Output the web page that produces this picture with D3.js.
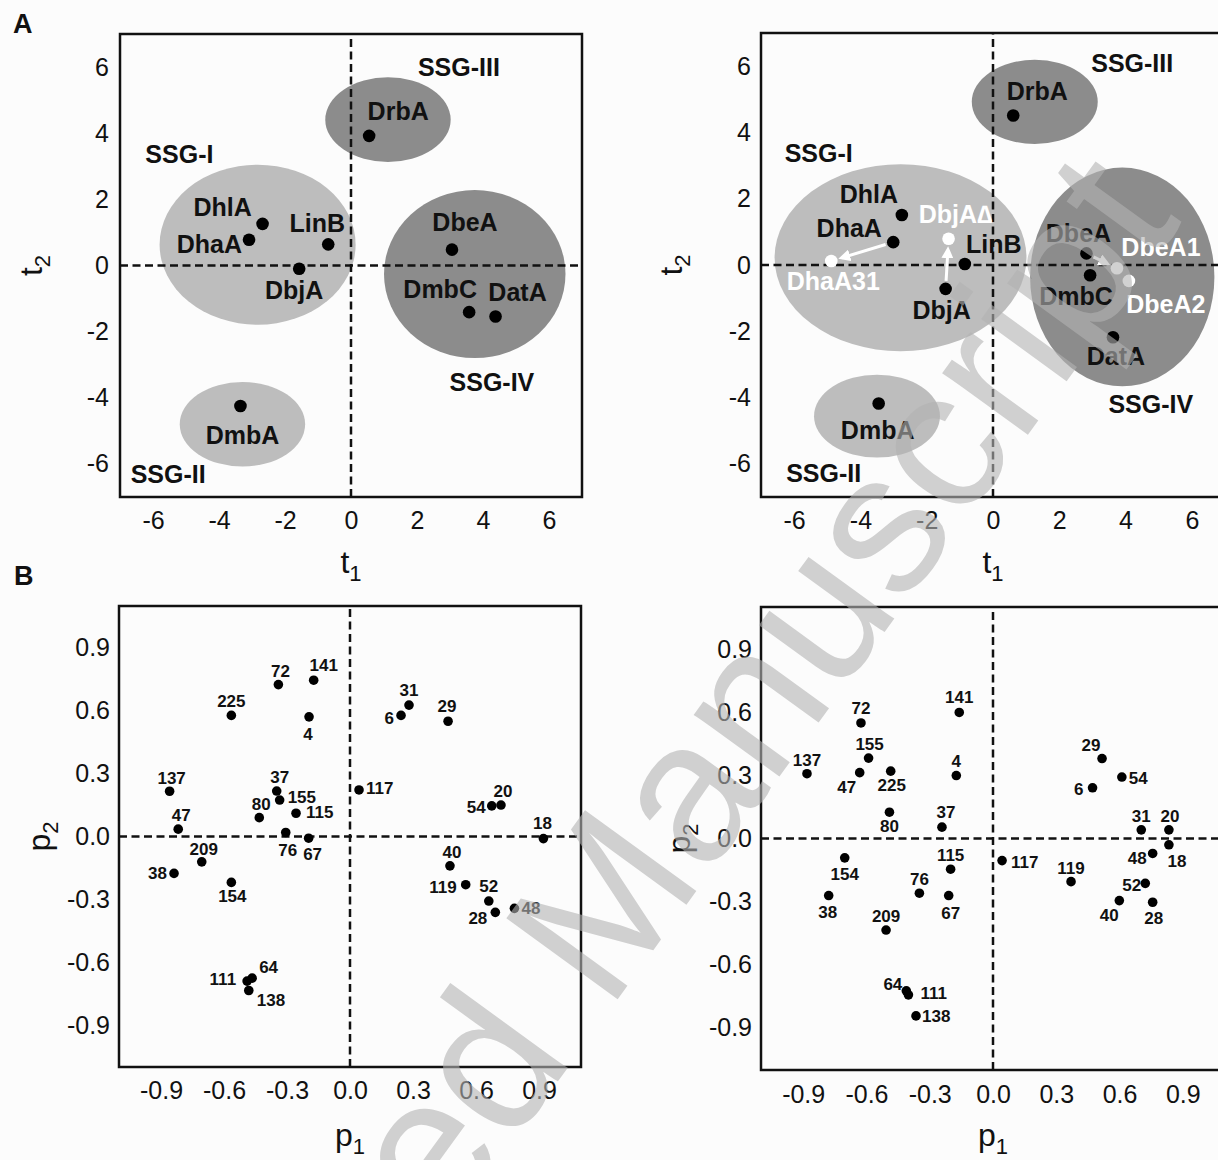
<!DOCTYPE html>
<html>
<head>
<meta charset="utf-8">
<script src="https://d3js.org/d3.v7.min.js"></script>
<style>
  body { margin: 0; background: #fcfcfc; }
  svg { display: block; font-family: Arial, "Liberation Sans", sans-serif; }
</style>
</head>
<body>
<svg id="chart" width="1218" height="1160"></svg>
<script>
// ---- Panel A (scores t1/t2) ----
const enzymesA1 = ["DrbA", "DhlA", "DhaA", "LinB", "DbjA", "DbeA", "DmbC", "DatA", "DmbA"];
const t1A1 = [0.55, -2.68, -3.09, -0.69, -1.57, 3.06, 3.58, 4.38, -3.35];
const t2A1 = [3.92, 1.26, 0.78, 0.64, -0.10, 0.48, -1.41, -1.54, -4.25];

const enzymesA2 = ["DrbA", "DhlA", "DhaA", "LinB", "DbjA", "DbeA", "DmbC", "DatA", "DmbA",
                   "DhaA31", "DbjA\u2206", "DbeA1", "DbeA2"];
const t1A2 = [0.61, -2.75, -3.01, -0.85, -1.43, 2.82, 2.93, 3.62, -3.45, -4.88, -1.34, 3.74, 4.10];
const t2A2 = [4.51, 1.51, 0.69, 0.03, -0.72, 0.35, -0.31, -2.18, -4.18, 0.12, 0.79, -0.10, -0.48];
const mutantA2 = [0, 0, 0, 0, 0, 0, 0, 0, 0, 1, 1, 1, 1];
// wild type -> mutant arrows
const arrowsA2 = [["DhaA", "DhaA31"], ["DbjA", "DbjA\u2206"], ["DbeA", "DbeA1"]];

// SSG groups: centre t1, centre t2, radius t1, radius t2, shade
const groupNames = ["SSG-I", "SSG-II", "SSG-III", "SSG-IV"];
const groupShade = ["light", "light", "dark", "dark"];
const groupCxA1 = [-2.83, -3.29, 1.12, 3.75];
const groupCyA1 = [0.63, -4.80, 4.41, -0.26];
const groupRxA1 = [2.97, 1.90, 1.90, 2.75];
const groupRyA1 = [2.42, 1.28, 1.28, 2.54];
const groupCxA2 = [-2.79, -3.50, 1.26, 3.90];
const groupCyA2 = [0.22, -4.56, 4.92, -0.36];
const groupRxA2 = [3.80, 1.90, 1.90, 2.78];
const groupRyA2 = [2.82, 1.25, 1.27, 3.30];

const ticksA = [-6, -4, -2, 0, 2, 4, 6];

// ---- Panel B (loadings p1/p2) ----
const residuesB1 = ["72", "141", "225", "4", "137", "37", "155", "80", "115", "47", "76", "67", "209", "38", "154",
                    "117", "31", "6", "29", "54", "20", "18", "40", "119", "52", "28", "48", "64", "111", "138"];
const p1B1 = [-0.341, -0.173, -0.565, -0.195, -0.859, -0.349, -0.335, -0.432, -0.257, -0.818, -0.306, -0.197, -0.706, -0.838, -0.565,
              0.043, 0.281, 0.243, 0.467, 0.675, 0.719, 0.921, 0.476, 0.551, 0.661, 0.692, 0.783, -0.466, -0.490, -0.482];
const p2B1 = [0.725, 0.746, 0.578, 0.571, 0.216, 0.217, 0.174, 0.090, 0.111, 0.035, 0.019, -0.008, -0.121, -0.176, -0.219,
              0.222, 0.627, 0.578, 0.550, 0.146, 0.150, -0.010, -0.140, -0.230, -0.308, -0.362, -0.343, -0.676, -0.690, -0.735];

const residuesB2 = ["141", "72", "155", "137", "47", "225", "4", "80", "37", "154", "115", "117", "29", "54", "6",
                    "31", "20", "18", "48", "119", "52", "40", "28", "38", "76", "67", "209", "64", "111", "138"];
const p1B2 = [-0.160, -0.626, -0.590, -0.882, -0.632, -0.485, -0.174, -0.491, -0.242, -0.703, -0.201, 0.043, 0.517, 0.611, 0.472,
              0.703, 0.834, 0.834, 0.757, 0.370, 0.722, 0.599, 0.757, -0.779, -0.349, -0.210, -0.507, -0.411, -0.401, -0.365];
const p2B2 = [0.599, 0.549, 0.382, 0.308, 0.313, 0.320, 0.299, 0.125, 0.054, -0.092, -0.146, -0.105, 0.380, 0.292, 0.241,
              0.041, 0.041, -0.030, -0.071, -0.205, -0.213, -0.295, -0.303, -0.271, -0.260, -0.271, -0.435, -0.724, -0.743, -0.843];

const ticksB = [-0.9, -0.6, -0.3, 0.0, 0.3, 0.6, 0.9];

// label placement relative to the dot (px): [dx, dy(baseline), anchor m/s/e]
const labelPosA1 = {
  DrbA: [29, -16, "m"], DhlA: [-40, -8, "m"], DhaA: [-7, 13, "e"], LinB: [-11, -12, "m"], DbjA: [-5, 30, "m"],
  DbeA: [13, -19, "m"], DmbC: [-29, -14, "m"], DatA: [22, -15, "m"], DmbA: [2, 38, "m"]
};
const labelPosA2 = {
  DrbA: [24, -16, "m"], DhlA: [-33, -12, "m"], DhaA: [-44, -5, "m"], LinB: [29, -11, "m"], DbjA: [-4, 30, "m"],
  DbeA: [-8, -11, "m"], DmbC: [-14, 30, "m"], DatA: [3, 28, "m"], DmbA: [-1, 35, "m"],
  DhaA31: [2, 29, "m"], "DbjA\u2206": [7, -16, "m"], DbeA1: [44, -12, "m"], DbeA2: [37, 32, "m"]
};
// group label positions in data units (centre, baseline)
const groupLabelA1 = [[-5.20, 3.11], [-5.54, -6.57], [3.27, 5.73], [4.27, -3.79]];
const groupLabelA2 = [[-5.26, 3.10], [-5.11, -6.55], [4.20, 5.81], [4.76, -4.48]];

const labelPosB1 = {
  "72": [2, -8, "m"], "141": [10, -9, "m"], "225": [0, -8, "m"], "4": [-1, 23, "m"], "137": [2, -7, "m"],
  "37": [3, -8, "m"], "155": [8, 3, "s"], "80": [2, -8, "m"], "115": [10, 5, "s"], "47": [3, -8, "m"],
  "76": [2, 23, "m"], "67": [4, 22, "m"], "209": [2, -7, "m"], "38": [-7, 6, "e"], "154": [1, 20, "m"],
  "117": [7, 4, "s"], "31": [0, -9, "m"], "6": [-7, 9, "e"], "29": [-1, -9, "m"], "54": [-6, 7, "e"],
  "20": [2, -8, "m"], "18": [-1, -10, "m"], "40": [2, -8, "m"], "119": [-9, 8, "e"], "52": [0, -9, "m"],
  "28": [-8, 12, "e"], "48": [7, 6, "s"], "64": [7, -5, "s"], "111": [-11, 4, "e"], "138": [8, 15, "s"]
};
const labelPosB2 = {
  "141": [0, -9, "m"], "72": [0, -9, "m"], "155": [1, -8, "m"], "137": [0, -8, "m"], "47": [-13, 20, "m"],
  "225": [1, 20, "m"], "4": [0, -9, "m"], "80": [0, 20, "m"], "37": [4, -9, "m"], "154": [0, 22, "m"],
  "115": [0, -8, "m"], "117": [9, 7, "s"], "29": [-11, -8, "m"], "54": [7, 7, "s"], "6": [-9, 7, "e"],
  "31": [0, -8, "m"], "20": [1, -8, "m"], "18": [8, 22, "m"], "48": [-6, 11, "e"], "119": [0, -8, "m"],
  "52": [-4, 8, "e"], "40": [-10, 20, "m"], "28": [1, 22, "m"], "38": [-1, 22, "m"], "76": [0, -8, "m"],
  "67": [2, 23, "m"], "209": [0, -8, "m"], "64": [-4, -1, "e"], "111": [12, 4, "s"], "138": [6, 6, "s"]
};

const anchorOf = { m: "middle", s: "start", e: "end" };
const svg = d3.select("#chart");

/**
 * Tick labels and axis titles of one panel (no tick marks in the original)
 */
function drawFrame(g, x, y, ticks, fmt, xName, yName, o) {
  g.append("g")
    .attr("transform", `translate(0,${y.range()[0]})`)
    .call(d3.axisBottom(x).tickValues(ticks).tickSize(0).tickPadding(o.padX).tickFormat(fmt))
    .call(a => a.select(".domain").remove())
    .call(a => a.selectAll("text").attr("font-size", 25).attr("fill", "#111").attr("font-family", null));
  g.append("g")
    .attr("transform", `translate(${x.range()[0]},0)`)
    .call(d3.axisLeft(y).tickValues(ticks).tickSize(0).tickPadding(o.padY).tickFormat(fmt))
    .call(a => a.select(".domain").remove())
    .call(a => a.selectAll("text").attr("font-size", 25).attr("fill", "#111").attr("font-family", null));

  let xt = g.append("text").attr("x", x(0)).attr("y", o.xTitleY)
    .attr("text-anchor", "middle").attr("font-size", 32).attr("fill", "#111");
  xt.append("tspan").text(xName[0]);
  xt.append("tspan").attr("font-size", 22).attr("dy", 8).text(xName[1]);

  let yt = g.append("text").attr("transform", `translate(${o.yTitleX},${y(0)}) rotate(-90)`)
    .attr("text-anchor", "middle").attr("font-size", 32).attr("fill", "#111");
  yt.append("tspan").text(yName[0]);
  yt.append("tspan").attr("font-size", 22).attr("dy", 8).text(yName[1]);
}

function drawDashes(g, x, y) {
  g.append("line").attr("x1", x.range()[0]).attr("x2", x.range()[1]).attr("y1", y(0)).attr("y2", y(0));
  g.append("line").attr("x1", x(0)).attr("x2", x(0)).attr("y1", y.range()[0]).attr("y2", y.range()[1]);
  g.selectAll("line").attr("stroke", "#111").attr("stroke-width", 2.5).attr("stroke-dasharray", "8,4.5");
}

function drawBox(g, x, y) {
  g.append("rect")
    .attr("x", x.range()[0]).attr("y", y.range()[1])
    .attr("width", x.range()[1] - x.range()[0]).attr("height", y.range()[0] - y.range()[1])
    .attr("fill", "none").attr("stroke", "#111").attr("stroke-width", 2.5);
}

/**
 * Score plot with SSG ellipses
 */
function drawScores(xr, yr, names, t1, t2, mutant, gx, gy, grx, gry, glab, labelPos, arrows, o) {
  let x = d3.scaleLinear().domain([-7, 7]).range(xr);
  let y = d3.scaleLinear().domain([-7, 7]).range(yr);
  let g = svg.append("g");

  g.selectAll(".ssg")
    .data(groupNames)
    .enter().append("ellipse")
    .attr("class", "ssg")
    .attr("cx", (d, i) => x(gx[i]))
    .attr("cy", (d, i) => y(gy[i]))
    .attr("rx", (d, i) => x(grx[i]) - x(0))
    .attr("ry", (d, i) => y(0) - y(gry[i]))
    .attr("fill", (d, i) => groupShade[i] === "light" ? "#bdbdbd" : "#8c8c8c");

  drawDashes(g.append("g"), x, y);
  drawFrame(g, x, y, ticksA, d => d, ["t", "1"], ["t", "2"], o);

  g.selectAll(".ssg-label")
    .data(groupNames)
    .enter().append("text")
    .attr("x", (d, i) => x(glab[i][0]))
    .attr("y", (d, i) => y(glab[i][1]))
    .attr("text-anchor", "middle").attr("font-size", 25).attr("font-weight", "bold").attr("fill", "#111")
    .text(d => d);

  // wild type -> mutant arrows
  let idx = {};
  names.forEach((n, i) => idx[n] = i);
  let defs = svg.append("defs");
  defs.append("marker").attr("id", "head" + o.id)
    .attr("viewBox", "0 0 10 10").attr("refX", 7).attr("refY", 5)
    .attr("markerWidth", 4).attr("markerHeight", 4).attr("orient", "auto")
    .append("path").attr("d", "M0,0L10,5L0,10Z").attr("fill", "#fff");
  arrows.forEach(a => {
    let p0 = [x(t1[idx[a[0]]]), y(t2[idx[a[0]]])];
    let p1 = [x(t1[idx[a[1]]]), y(t2[idx[a[1]]])];
    let dx = p1[0] - p0[0], dy = p1[1] - p0[1], len = Math.hypot(dx, dy);
    let s = 8 / len, e = (len - 11) / len;
    g.append("line")
      .attr("x1", p0[0] + dx * s).attr("y1", p0[1] + dy * s)
      .attr("x2", p0[0] + dx * e).attr("y2", p0[1] + dy * e)
      .attr("stroke", "#fff").attr("stroke-width", 3)
      .attr("marker-end", `url(#head${o.id})`);
  });

  g.selectAll(".dot")
    .data(names)
    .enter().append("circle")
    .attr("cx", (d, i) => x(t1[i]))
    .attr("cy", (d, i) => y(t2[i]))
    .attr("r", 6.3)
    .attr("fill", (d, i) => mutant[i] ? "#fff" : "#000");

  g.selectAll(".name")
    .data(names)
    .enter().append("text")
    .attr("x", (d, i) => x(t1[i]) + labelPos[d][0])
    .attr("y", (d, i) => y(t2[i]) + labelPos[d][1])
    .attr("text-anchor", d => anchorOf[labelPos[d][2]])
    .attr("font-size", 25).attr("font-weight", "bold")
    .attr("fill", (d, i) => mutant[i] ? "#fff" : "#111")
    .text(d => d);

  drawBox(g, x, y);
}

/**
 * Loading plot of residue positions
 */
function drawLoadings(xr, yr, names, p1, p2, labelPos, o) {
  let x = d3.scaleLinear().domain([-1.1, 1.1]).range(xr);
  let y = d3.scaleLinear().domain([-1.1, 1.1]).range(yr);
  let g = svg.append("g");

  drawDashes(g.append("g"), x, y);
  drawFrame(g, x, y, ticksB, d => d.toFixed(1), ["p", "1"], ["p", "2"], o);

  g.selectAll(".dot")
    .data(names)
    .enter().append("circle")
    .attr("cx", (d, i) => x(p1[i]))
    .attr("cy", (d, i) => y(p2[i]))
    .attr("r", 4.8)
    .attr("fill", "#000");

  g.selectAll(".res")
    .data(names)
    .enter().append("text")
    .attr("x", (d, i) => x(p1[i]) + labelPos[d][0])
    .attr("y", (d, i) => y(p2[i]) + labelPos[d][1])
    .attr("text-anchor", d => anchorOf[labelPos[d][2]])
    .attr("font-size", 17).attr("font-weight", "bold").attr("fill", "#111")
    .text(d => d);

  drawBox(g, x, y);
}

drawScores([120, 582], [497, 34], enzymesA1, t1A1, t2A1, enzymesA1.map(() => 0),
  groupCxA1, groupCyA1, groupRxA1, groupRyA1, groupLabelA1, labelPosA1, [],
  { id: "a1", padX: 14.5, padY: 11, xTitleY: 573, yTitleX: 42 });
drawScores([761, 1225], [497, 33], enzymesA2, t1A2, t2A2, mutantA2,
  groupCxA2, groupCyA2, groupRxA2, groupRyA2, groupLabelA2, labelPosA2, arrowsA2,
  { id: "a2", padX: 14.5, padY: 10, xTitleY: 573, yTitleX: 682 });
drawLoadings([119, 581], [1067, 606], residuesB1, p1B1, p2B1, labelPosB1,
  { padX: 14.7, padY: 9, xTitleY: 1146, yTitleX: 50 });
drawLoadings([761, 1225], [1070, 607], residuesB2, p1B2, p2B2, labelPosB2,
  { padX: 15, padY: 9, xTitleY: 1146, yTitleX: 690 });

// panel letters
svg.append("text").attr("x", 13).attr("y", 33).text("A");
svg.append("text").attr("x", 14).attr("y", 585).text("B");
svg.selectAll("svg > text").attr("font-size", 27).attr("font-weight", "bold").attr("fill", "#111");

// watermark across the figure
svg.append("text")
  .attr("transform", "translate(592,946) rotate(-54)")
  .attr("text-anchor", "middle").attr("dy", "0.26em")
  .attr("font-size", 200).attr("fill", "#b3b3b3").attr("opacity", 0.6)
  .text("Accepted Manuscript");
</script>
</body>
</html>
